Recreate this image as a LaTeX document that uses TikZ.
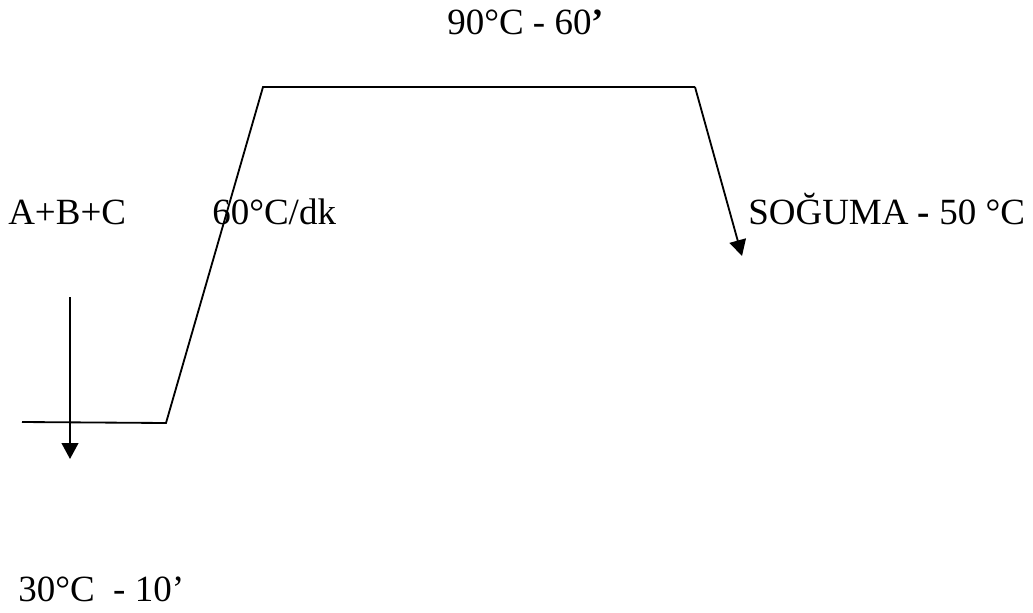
\documentclass[tikz,border=0pt]{standalone}
\usepackage{fontspec}
\setmainfont{Liberation Serif}
\usetikzlibrary{positioning,arrows.meta}

\begin{document}
\begin{tikzpicture}[x=0.025cm,y=-0.025cm,>={Triangle[length=0.4cm,width=0.42cm]},
  every node/.style={font=\fontsize{26.3}{30}\selectfont,inner sep=0pt},
  label/.style={anchor=base west},
  curve/.style={line width=1.3pt}]
  \useasboundingbox (0,0) rectangle (1033,612);
  % temperature profile
  \coordinate (start) at (22,422);
  \coordinate (low) at (166,423);
  \coordinate (topl) at (263,87);
  \coordinate (topr) at (695,87);
  \coordinate (cool) at (742,256);
  \coordinate (addtop) at (70,297);
  \coordinate (addend) at (70,459);
  \draw[curve] (start) -- (low) -- (topl) -- (topr);
  \draw[curve,->] (topr) -- (cool);
  \draw[curve,->] (addtop) -- (addend);
  % labels
  \node[label] (hold) at (447,34) {90°C - 60\textbf{’}};
  \node[label] (mix) at (8,224) {A+B+C};
  \node[label] (rate) at (212,224) {60°C/dk};
  \node[label] (cooling) at (748,224) {SOĞUMA \textbf{-} 50 °C};
  \node[label] (first) at (18,601) {30°C \ - 10’};
\end{tikzpicture}
\end{document}
